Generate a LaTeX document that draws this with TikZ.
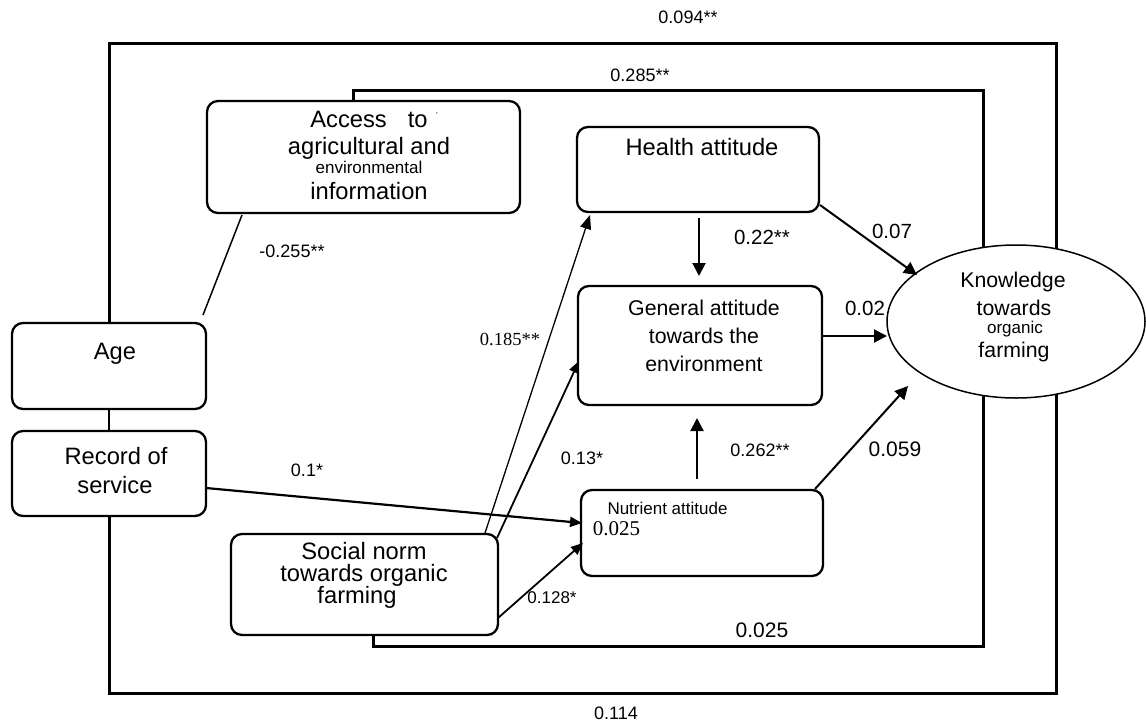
\documentclass[tikz,border=0pt]{standalone}
\usepackage{fontspec}
\setmainfont{Liberation Sans}
\newfontfamily\tnr{Liberation Serif}
\usetikzlibrary{calc,arrows.meta,shapes.geometric}
\newcommand{\fsz}[1]{\fontsize{#1}{#1}\selectfont}

\begin{document}
\begin{tikzpicture}[x=1pt,y=-1pt,
  box/.style={draw, rounded corners=11pt, line width=2.3pt, inner sep=0pt, outer sep=0pt},
  bt/.style={inner sep=0pt, anchor=base, font=\fsz{23.7}},
  gt/.style={inner sep=0pt, anchor=base, font=\fsz{21.3}},
  lab/.style={inner sep=0pt, font=\fsz{18}},
  blab/.style={inner sep=0pt, font=\fsz{20.5}},
  frame/.style={line width=3pt},
  arr/.style={line width=2pt, -{Triangle[length=13pt,width=13pt]}},
  sarr/.style={line width=1.8pt, -{Triangle[length=12pt,width=10pt]}},
]
\useasboundingbox (0,0) rectangle (1146,723);

% boxes
\node[box, minimum width=313pt, minimum height=112pt] (access) at (363.5,157) {};
\node[box, minimum width=194pt, minimum height=86pt] (age) at (109,366) {};
\node[box, minimum width=194pt, minimum height=85pt] (record) at (109,473.5) {};
\node[box, minimum width=267pt, minimum height=101pt] (social) at (364.5,584.5) {};
\node[box, minimum width=242pt, minimum height=85pt] (health) at (698,169.5) {};
\node[box, minimum width=244pt, minimum height=119pt] (general) at (700,345.5) {};
\node[box, minimum width=242pt, minimum height=86pt] (nutrient) at (702,533) {};
\node[draw, ellipse, line width=1.5pt, minimum width=258pt, minimum height=153pt,
      inner sep=0pt, outer sep=0pt] (know) at (1016,321.5) {};

% box texts
\node[bt] (ta1) at (369,127) {Access\hspace{21pt}to};
\node[inner sep=0pt, font=\fsz{9}] (ta0) at (437,116) {´};
\node[bt] (ta2) at (369,154) {agricultural and};
\node[bt, font=\fsz{17}] (ta3) at (369,173) {environmental};
\node[bt] (ta4) at (369,199) {information};
\node[bt] (tage) at (115,359) {Age};
\node[bt] (tr1) at (116,464) {Record of};
\node[bt] (tr2) at (115,493) {service};
\node[bt] (ts1) at (364,559.5) {Social norm};
\node[bt] (ts2) at (364,581) {towards organic};
\node[bt] (ts3) at (357,603.5) {farming};
\node[bt] (th) at (702,155) {Health attitude};
\node[gt] (tg1) at (704,315) {General attitude};
\node[gt] (tg2) at (704,343) {towards the};
\node[gt] (tg3) at (704,371) {environment};
\node[bt, font=\fsz{17}] (tn) at (667.5,514) {Nutrient attitude};
\node[bt, font=\fsz{21}\tnr] (tn2) at (616.5,535) {0.025};
\node[gt] (tk1) at (1013,287) {Knowledge};
\node[gt] (tk2) at (1014,315) {towards};
\node[bt, font=\fsz{17}] (tk3) at (1015,333) {organic};
\node[gt] (tk4) at (1014,357) {farming};

% frames
\coordinate (ftop) at (0,43);
\coordinate (fbot) at (0,693);
\coordinate (itop) at (0,90.5);
\coordinate (ibot) at (0,646);
\coordinate (ia) at ($(access.north)+(-10.5,0)$);
\coordinate (ib) at ($(social.south)+(8.5,0)$);
\draw[frame] (age.north) -- (age.north |- ftop) -- (know.61.9 |- ftop) -- (know.61.9);
\draw[frame] (record.south) -- (record.south |- fbot) -- (know.-61.9 |- fbot) -- (know.-61.9);
\draw[frame] (ia) -- (ia |- itop) -- (know.114.7 |- itop) -- (know.114.7);
\draw[frame] (ib) -- (ib |- ibot) -- (know.-114.7 |- ibot) -- (know.-114.7);
\draw[line width=2.3pt] (age.south) -- (record.north);

% connectors
\draw[line width=1.5pt] ($(age.north east)+(-3,-8)$) -- ($(access.south west)+(35,2)$);
\draw[sarr, line width=2.2pt] ($(record.east)+(0,14.5)$) -- ($(nutrient.west)+(1,-10)$);
\draw[line width=1.3pt, -{Triangle[length=14pt,width=11pt]}] ($(social.north east)+(-13,-1)$) -- ($(health.south west)+(13,3)$);
\draw[sarr] ($(social.north east)+(-1,4)$) -- ($(general.west)+(1,15.5)$);
\draw[sarr] ($(social.east)+(0,33.5)$) -- ($(nutrient.west)+(2,10)$);
\draw[arr] ($(health.south)+(1,6)$) -- ($(general.north)+(-1,-10)$);
\draw[arr] ($(health.south east)+(1,-7)$) -- ($(know.center)+(-99,-46.5)$);
\draw[arr] ($(general.east)+(1,-9.5)$) -- ($(know.center)+(-129,14.5)$);
\draw[arr] ($(nutrient.north)+(-5,-11)$) -- ($(general.south)+(-3,13)$);
\draw[arr] ($(nutrient.north east)+(-8,-1)$) -- ($(know.center)+(-108,64.5)$);

% labels
\node[lab] (l094) at (688,17.5) {0.094**};
\node[lab] (l285) at (640,75) {0.285**};
\node[lab] (l255) at (292,251) {-0.255**};
\node[lab, font=\fsz{18.5}\tnr] (l185) at (510,339) {0.185**};
\node[lab] (l1) at (307,470) {0.1*};
\node[lab] (l13) at (582,458) {0.13*};
\node[lab, font=\fsz{17}] (l128) at (552,598) {0.128*};
\node[blab] (l22) at (762,237) {0.22**};
\node[blab] (l07) at (892,231) {0.07};
\node[blab] (l02) at (865,308) {0.02};
\node[lab] (l262) at (760,450) {0.262**};
\node[blab, font=\fsz{21}] (l059) at (895,449) {0.059};
\node[blab, font=\fsz{21}] (l025) at (762,630) {0.025};
\node[lab] (l114) at (616,713) {0.114};
\end{tikzpicture}
\end{document}
